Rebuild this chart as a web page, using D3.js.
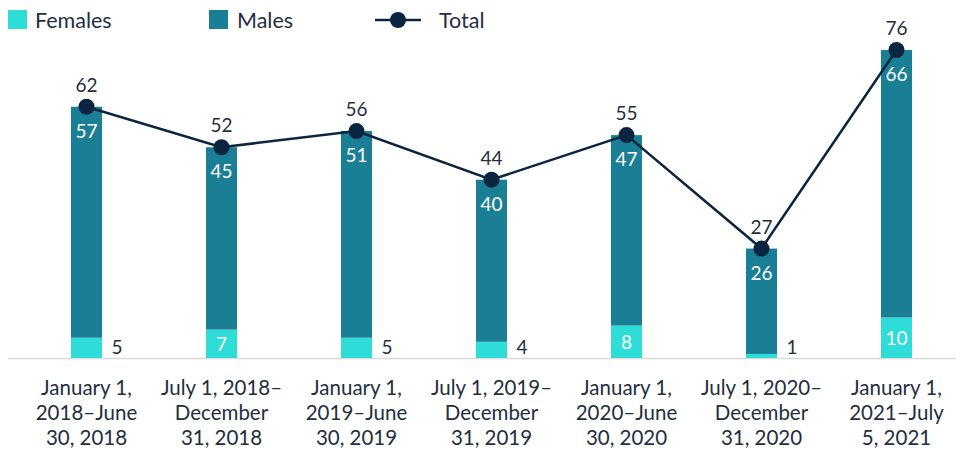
<!DOCTYPE html>
<html><head><meta charset="utf-8">
<script src="https://cdn.jsdelivr.net/npm/d3@7"></script>
<style>body{margin:0;background:#fff}svg{display:block}text{font-family:Lato,"Open Sans",sans-serif}</style>
</head><body><svg id="c" width="963" height="450"></svg>
<script>
const categories = [
  ["January 1,", "2018–June", "30, 2018"],
  ["July 1, 2018–", "December", "31, 2018"],
  ["January 1,", "2019–June", "30, 2019"],
  ["July 1, 2019–", "December", "31, 2019"],
  ["January 1,", "2020–June", "30, 2020"],
  ["July 1, 2020–", "December", "31, 2020"],
  ["January 1,", "2021–July", "5, 2021"]
];
const females = [5, 7, 5, 4, 8, 1, 10];
const males = [57, 45, 51, 40, 47, 26, 66];
const totals = [62, 52, 56, 44, 55, 27, 76];

const cF = "#2EDCD8", cM = "#1A7E94", cT = "#0B2540", txt = "#1F2F40";
const svg = d3.select("#c");
const base = 358;
const x = d3.scaleBand().domain(d3.range(categories.length)).range([19, 964]).paddingInner(0.77).paddingOuter(0.385);
const y = d3.scaleLinear().domain([0, 76]).range([base, 50]);
const bw = x.bandwidth();
const cx = i => x(i) + bw / 2;

// axis line
svg.append("line").attr("x1", 8).attr("x2", 956).attr("y1", base + 0.5).attr("y2", base + 0.5)
  .attr("stroke", "#d9d9d9").attr("stroke-width", 1.5);

const g = svg.append("g");
categories.forEach((c, i) => {
  g.append("rect").attr("x", x(i)).attr("width", bw).attr("y", y(females[i])).attr("height", base - y(females[i])).attr("fill", cF);
  g.append("rect").attr("x", x(i)).attr("width", bw).attr("y", y(females[i] + males[i])).attr("height", y(females[i]) - y(females[i] + males[i])).attr("fill", cM);
  g.append("text").attr("x", cx(i)).attr("y", y(females[i] + males[i]) + 31).attr("text-anchor", "middle")
    .attr("fill", "#fff").attr("font-size", 19).text(males[i]);
  if (females[i] >= 7) {
    g.append("text").attr("x", cx(i)).attr("y", (y(females[i]) + base) / 2 + 7).attr("text-anchor", "middle")
      .attr("fill", "#fff").attr("font-size", 19).text(females[i]);
  } else {
    g.append("text").attr("x", x(i) + bw + 15).attr("y", base - 4).attr("text-anchor", "middle")
      .attr("fill", txt).attr("font-size", 19).text(females[i]);
  }
  c.forEach((line, k) => {
    g.append("text").attr("x", cx(i)).attr("y", 395 + k * 25).attr("text-anchor", "middle")
      .attr("fill", txt).attr("font-size", 20.5).text(line);
  });
});

const line = d3.line().x((d, i) => cx(i)).y(d => y(d));
svg.append("path").datum(totals).attr("d", line).attr("fill", "none").attr("stroke", cT).attr("stroke-width", 2.5);
totals.forEach((t, i) => {
  svg.append("circle").attr("cx", cx(i)).attr("cy", y(t)).attr("r", 8).attr("fill", cT);
  svg.append("text").attr("x", cx(i)).attr("y", y(t) - 15).attr("text-anchor", "middle")
    .attr("fill", txt).attr("font-size", 19).text(t);
});

// legend
const lg = svg.append("g");
lg.append("rect").attr("x", 8).attr("y", 10).attr("width", 19).attr("height", 19).attr("fill", cF);
lg.append("text").attr("x", 35).attr("y", 28).attr("fill", txt).attr("font-size", 21.5).text("Females");
lg.append("rect").attr("x", 209).attr("y", 10).attr("width", 19).attr("height", 19).attr("fill", cM);
lg.append("text").attr("x", 237).attr("y", 28).attr("fill", txt).attr("font-size", 21.5).text("Males");
lg.append("line").attr("x1", 375).attr("x2", 421).attr("y1", 20).attr("y2", 20).attr("stroke", cT).attr("stroke-width", 2.5);
lg.append("circle").attr("cx", 398).attr("cy", 20).attr("r", 8).attr("fill", cT);
lg.append("text").attr("x", 439).attr("y", 28).attr("fill", txt).attr("font-size", 21.5).text("Total");
</script></body></html>
